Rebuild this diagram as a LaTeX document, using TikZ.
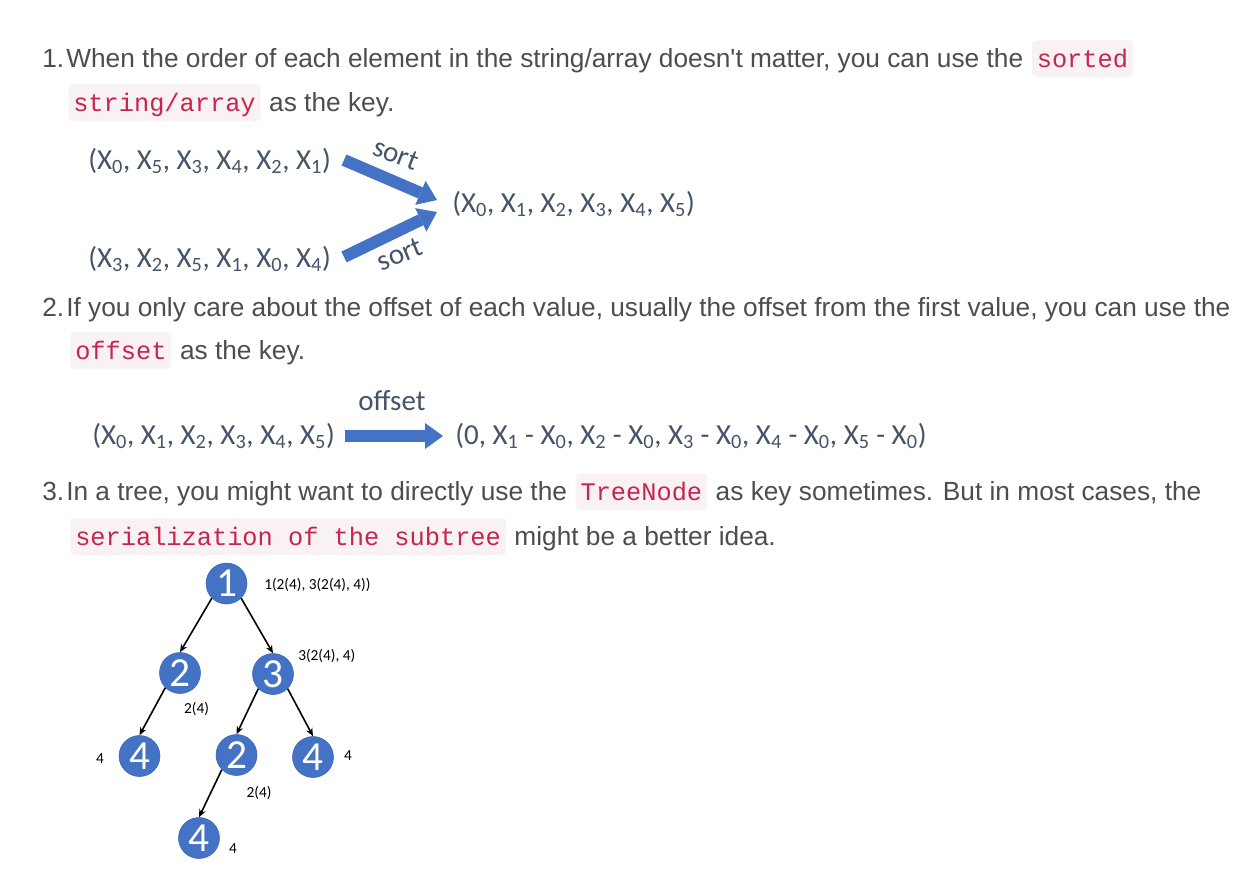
\documentclass[tikz,border=0pt]{standalone}
\usepackage{fontspec}
\setmainfont{Liberation Sans}
\newfontfamily\codefont{Liberation Mono}
\newfontfamily\slidefont{Carlito}
\usetikzlibrary{arrows.meta,positioning}
\definecolor{bodygray}{HTML}{4D4D4D}
\definecolor{codered}{HTML}{C7254E}
\definecolor{codebg}{HTML}{F9F2F4}
\definecolor{slidetext}{HTML}{44546A}
\definecolor{nodeblue}{HTML}{4472C4}
\definecolor{nodeedge}{HTML}{3A64B0}
\newcommand{\Xsub}[1]{X\textsubscript{#1}}
\tikzset{
  body/.style={anchor=base west, inner sep=0pt, text=bodygray, font=\fontsize{19.7}{23}\selectfont},
  code/.style={anchor=base west, inner xsep=3.75pt, inner ysep=0pt, text height=20pt, text depth=7.5pt,
    fill=codebg, rounded corners=3pt, text=codered, font=\codefont\fontsize{19}{21}\selectfont},
  tuple/.style={anchor=base west, inner sep=0pt, text=slidetext, font=\slidefont\fontsize{21.75}{24}\selectfont},
  blockarrow/.style={draw=nodeblue, line width=9pt, -{Triangle[length=13.5pt,width=19.5pt,line width=0pt]}},
  tnode/.style={circle, fill=nodeblue, draw=nodeedge, line width=0.4pt, minimum size=30.75pt, inner sep=0pt,
    text=white, font=\slidefont\fontsize{31}{31}\selectfont},
  tlabel/.style={inner sep=0pt, font=\slidefont\fontsize{11.5}{13}\selectfont},
  tedge/.style={-{Stealth[length=6pt,width=5pt]}, line width=1.2pt},
}

\begin{document}
\begin{tikzpicture}[x=0.75pt,y=-0.75pt]
  \fill[white] (0,0) rectangle (1250,872);
  \useasboundingbox (0,0) rectangle (1250,872);

  % item 1
  \node[body] (m1) at (42,67) {1.};
  \node[body] (p1) at (66,67) {When the order of each element in the string/array doesn\textquotesingle t matter, you can use the};
  \node[code] (k1) at ([xshift=6pt]p1.base east) {sorted};
  \node[code] (k2) at (68,111) {string/array};
  \node[body] (p2) at ([xshift=6pt]k2.base east) {as the key.};

  % sorting two tuples
  \node[tuple] (srcA) at (88,169) {(\Xsub{0}, \Xsub{5}, \Xsub{3}, \Xsub{4}, \Xsub{2}, \Xsub{1})};
  \node[tuple] (srcB) at (88,267) {(\Xsub{3}, \Xsub{2}, \Xsub{5}, \Xsub{1}, \Xsub{0}, \Xsub{4})};
  \node[tuple] (dstA) at (452,212) {(\Xsub{0}, \Xsub{1}, \Xsub{2}, \Xsub{3}, \Xsub{4}, \Xsub{5})};
  \coordinate (tailA) at (344,160);
  \coordinate (tailB) at (344,257);
  \coordinate (tipA) at (437,200);
  \coordinate (tipB) at (437,212);
  \draw[blockarrow] (tailA) -- (tipA);
  \draw[blockarrow] (tailB) -- (tipB);
  \node[tuple, anchor=center, rotate=-21] (sortA) at (396,154) {sort};
  \node[tuple, anchor=center, rotate=22] (sortB) at (400,254) {sort};

  % item 2
  \node[body] (m3) at (42,316) {2.};
  \node[body] (p3) at (66,316) {If you only care about the offset of each value, usually the offset from the first value, you can use the};
  \node[code] (k3) at (70,359) {offset};
  \node[body] (p4) at ([xshift=6pt]k3.base east) {as the key.};

  % offset from the first value
  \node[tuple] (srcC) at (92,444) {(\Xsub{0}, \Xsub{1}, \Xsub{2}, \Xsub{3}, \Xsub{4}, \Xsub{5})};
  \node[tuple] (dstC) at (455,444) {(0, \Xsub{1} - \Xsub{0}, \Xsub{2} - \Xsub{0}, \Xsub{3} - \Xsub{0}, \Xsub{4} - \Xsub{0}, \Xsub{5} - \Xsub{0})};
  \coordinate (tailC) at (345,436);
  \coordinate (tipC) at (443,436);
  \draw[blockarrow] (tailC) -- (tipC);
  \node[tuple, anchor=base] (offC) at (392,410) {offset};

  % item 3
  \node[body] (m5) at (42,500) {3.};
  \node[body] (p5) at (66,500) {In a tree, you might want to directly use the};
  \node[code] (k5) at ([xshift=6pt]p5.base east) {TreeNode};
  \node[body] (p6) at ([xshift=6pt]k5.base east) {as key sometimes. But in most cases, the};
  \node[code] (k6) at (70,545) {serialization of the subtree};
  \node[body] (p7) at ([xshift=6pt]k6.base east) {might be a better idea.};

  % tree
  \node[tnode] (r) at (226.5,583.5) {1};
  \node[tnode] (a) at (180,673) {2};
  \node[tnode] (b) at (273,674) {3};
  \node[tnode] (aa) at (139.5,756) {4};
  \node[tnode] (ba) at (236.5,755) {2};
  \node[tnode] (bb) at (313,757) {4};
  \node[tnode] (baa) at (199,838) {4};

  \draw[tedge] (r.south west) -- (a.north);
  \draw[tedge] (r.south east) -- (b.north);
  \draw[tedge] (a.south west) -- (aa.north);
  \draw[tedge] (b.south west) -- (ba.north);
  \draw[tedge] (b.south east) -- (bb.north);
  \draw[tedge] (ba.south west) -- (baa.north);

  % serialized subtrees
  \node[tlabel, anchor=west] (lr) at (264,585) {1(2(4), 3(2(4), 4))};
  \node[tlabel, anchor=west] (lb) at (298,656) {3(2(4), 4)};
  \node[tlabel] (la) at (196.5,709) {2(4)};
  \node[tlabel] (laa) at (100,759) {4};
  \node[tlabel] (lbb) at (348,756) {4};
  \node[tlabel] (lba) at (259,793) {2(4)};
  \node[tlabel] (lbaa) at (233,849) {4};
\end{tikzpicture}
\end{document}
